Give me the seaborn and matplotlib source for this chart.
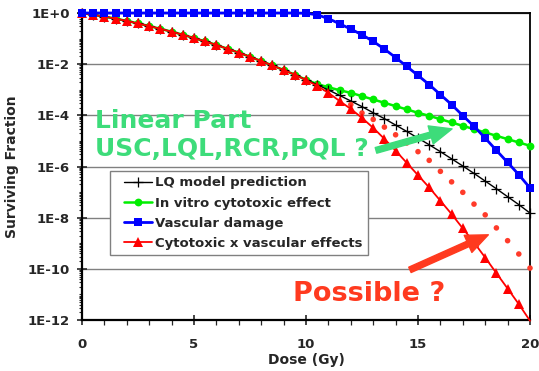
import numpy as np
import pandas as pd
import matplotlib
matplotlib.use("Agg")
import matplotlib.pyplot as plt
import seaborn as sns
from matplotlib.lines import Line2D
from matplotlib.legend_handler import HandlerLine2D
from matplotlib.ticker import FixedLocator, FuncFormatter, NullFormatter

# ---------------- data (log10 of surviving fraction) -------------
dose = [0.0, 0.5, 1.0, 1.5, 2.0, 2.5, 3.0, 3.5, 4.0, 4.5, 5.0, 5.5, 6.0, 6.5, 7.0, 7.5,
        8.0, 8.5, 9.0, 9.5, 10.0, 10.5, 11.0, 11.5, 12.0, 12.5, 13.0, 13.5, 14.0, 14.5,
        15.0, 15.5, 16.0, 16.5, 17.0, 17.5, 18.0, 18.5, 19.0, 19.5, 20.0]

lq_log = [0.00, -0.07, -0.14, -0.22, -0.31, -0.41, -0.51, -0.62, -0.73, -0.85,
          -0.98, -1.11, -1.25, -1.40, -1.55, -1.71, -1.88, -2.05, -2.23, -2.41,
          -2.61, -2.80, -3.01, -3.22, -3.44, -3.66, -3.90, -4.13, -4.38, -4.63,
          -4.89, -5.15, -5.42, -5.70, -5.98, -6.27, -6.57, -6.87, -7.18, -7.49, -7.82]

invitro_log = [0.00, -0.07, -0.14, -0.22, -0.31, -0.41, -0.51, -0.62, -0.73, -0.85,
               -0.98, -1.11, -1.25, -1.40, -1.55, -1.71, -1.88, -2.05, -2.23, -2.41,
               -2.61, -2.78, -2.90, -3.02, -3.12, -3.25, -3.38, -3.51, -3.64, -3.77,
               -3.90, -4.02, -4.15, -4.28, -4.41, -4.54, -4.67, -4.80, -4.93, -5.06, -5.19]

vascular_log = [0.00, 0.00, 0.00, 0.00, 0.00, 0.00, 0.00, 0.00, 0.00, 0.00,
                0.00, 0.00, 0.00, 0.00, 0.00, 0.00, 0.00, 0.00, 0.00, 0.00,
                -0.01, -0.07, -0.22, -0.42, -0.63, -0.85, -1.11, -1.41, -1.74, -2.09,
                -2.44, -2.80, -3.19, -3.58, -4.01, -4.43, -4.89, -5.37, -5.84, -6.32, -6.84]

combined_log = [0.00, -0.07, -0.14, -0.22, -0.31, -0.41, -0.51, -0.62, -0.73, -0.85,
                -0.98, -1.11, -1.25, -1.40, -1.55, -1.71, -1.88, -2.05, -2.23, -2.41,
                -2.62, -2.85, -3.12, -3.44, -3.75, -4.10, -4.49, -4.92, -5.38, -5.86,
                -6.34, -6.82, -7.34, -7.86, -8.42, -8.97, -9.56, -10.17, -10.77, -11.38, -12.03]

possible_dose = [12.0, 12.5, 13.0, 13.5, 14.0, 14.5, 15.0, 15.5, 16.0, 16.5,
                 17.0, 17.5, 18.0, 18.5, 19.0, 19.5, 20.0]
possible_log = [-3.58, -3.91, -4.16, -4.46, -4.76, -5.08, -5.42, -5.76, -6.19, -6.60,
                -7.01, -7.47, -7.89, -8.40, -8.90, -9.42, -9.97]

labels = ["LQ model prediction", "In vitro cytotoxic effect",
          "Vascular damage", "Cytotoxic x vascular effects"]
ytick_exps = [0, -2, -4, -6, -8, -10, -12]
xticks = [0, 5, 10, 15, 20]

# ---------------- style ----------------
sns.set_style("white")
plt.rcParams["font.family"] = ["DejaVu Sans"]
plt.rcParams["font.weight"] = "bold"
plt.rcParams["axes.labelweight"] = "bold"

GREEN_TXT = "#3ddc7a"
RED_TXT = "#ff3a1f"
C_LQ, C_GR, C_BL, C_RD = "black", "#00ee00", "#0000ff", "#ff0000"

fig = plt.figure(figsize=(5.39, 3.71), dpi=100)
ax = fig.add_axes([82 / 539, 51 / 371, 448 / 539, 307 / 371])

def frac(v):
    return 10.0 ** np.array(v)

df = pd.DataFrame({"dose": dose, "lq": frac(lq_log), "invitro": frac(invitro_log),
                   "vasc": frac(vascular_log), "comb": frac(combined_log)})
df_pos = pd.DataFrame({"dose": possible_dose, "S": frac(possible_log)})

sns.lineplot(data=df, x="dose", y="invitro", ax=ax, color=C_GR, lw=1.8,
             marker="o", markersize=5.6, markeredgewidth=0, markeredgecolor=C_GR,
             clip_on=False, zorder=3)
sns.lineplot(data=df, x="dose", y="lq", ax=ax, color=C_LQ, lw=1.0,
             marker="+", markersize=7.5, markeredgewidth=0.9, markeredgecolor=C_LQ,
             clip_on=False, zorder=4)
sns.scatterplot(data=df_pos, x="dose", y="S", ax=ax, color="#ff3b2a", s=16,
                edgecolor="none", zorder=4.5, clip_on=False)
sns.lineplot(data=df, x="dose", y="comb", ax=ax, color=C_RD, lw=1.3,
             marker="^", markersize=6.5, markeredgewidth=0, markeredgecolor=C_RD,
             clip_on=False, markevery=list(range(0, 40)), zorder=5)
sns.lineplot(data=df, x="dose", y="vasc", ax=ax, color=C_BL, lw=2.0,
             marker="s", markersize=6.0, markeredgewidth=0, markeredgecolor=C_BL,
             clip_on=False, zorder=6)

ax.set_yscale("log")
ax.set_xlim(0, 20)
ax.set_ylim(1e-12, 1)

ax.yaxis.set_major_locator(FixedLocator([10.0 ** e for e in ytick_exps]))
ax.yaxis.set_major_formatter(FuncFormatter(lambda v, p: "1E%+d" % int(round(np.log10(v)))))
minor = [k * 10.0 ** n for n in range(-12, 0) for k in range(1, 10)
         if not (k == 1 and n % 2 == 0)]
ax.yaxis.set_minor_locator(FixedLocator(minor))
ax.yaxis.set_minor_formatter(NullFormatter())
ax.xaxis.set_major_locator(FixedLocator(xticks))
ax.xaxis.set_minor_locator(FixedLocator([d for d in range(0, 21) if d % 5 != 0]))

ax.tick_params(axis="y", which="major", direction="inout", length=6.5, width=1.2,
               labelsize=9.5, pad=5.5, left=True)
ax.tick_params(axis="y", which="minor", direction="out", length=2.5, width=0.8, left=True)
ax.tick_params(axis="x", which="major", direction="inout", length=7.5, width=1.2,
               labelsize=9.5, pad=9, bottom=True)
ax.tick_params(axis="x", which="minor", direction="out", length=3.5, width=0.9, bottom=True)

ax.yaxis.grid(True, which="major", color="#808080", lw=1.0)
ax.xaxis.grid(False)
ax.set_axisbelow(True)
for side in ["left", "bottom"]:
    ax.spines[side].set_color("black")
    ax.spines[side].set_linewidth(1.6)
for side in ["top", "right"]:
    ax.spines[side].set_color("black")
    ax.spines[side].set_linewidth(1.3)

ax.set_xlabel("Dose (Gy)", fontsize=10, fontweight="bold")
ax.set_ylabel("Surviving Fraction", fontsize=10, fontweight="bold")
ax.xaxis.set_label_coords(0.501, -0.108)
ax.yaxis.set_label_coords(-0.14, 0.5)

# legend
handles = [
    Line2D([], [], color=C_LQ, lw=1.0, marker="+", markersize=7.5, markeredgewidth=0.9),
    Line2D([], [], color=C_GR, lw=1.8, marker="o", markersize=5.6, markeredgewidth=0),
    Line2D([], [], color=C_BL, lw=2.0, marker="s", markersize=6.0, markeredgewidth=0),
    Line2D([], [], color=C_RD, lw=1.3, marker="^", markersize=6.5, markeredgewidth=0),
]
leg = ax.legend(handles, labels, loc="upper left", bbox_to_anchor=(0.0625, 0.4853),
                borderaxespad=0, fontsize=9.5, frameon=True, fancybox=False,
                edgecolor="#808080", framealpha=1, borderpad=0.4, labelspacing=0.55,
                handlelength=2.78, handletextpad=0.25,
                handler_map={Line2D: HandlerLine2D(xpad=0.66)})
leg.get_frame().set_linewidth(1.0)
leg.set_zorder(7)
for t in leg.get_texts():
    t.set_fontweight("bold")

# annotations
ax.text(0.58, 10 ** -4.48, "Linear Part", color=GREEN_TXT, fontsize=18,
        fontweight="bold", va="baseline", ha="left", zorder=8)
ax.text(0.58, 10 ** -5.58, "USC,LQL,RCR,PQL ?", color=GREEN_TXT, fontsize=18,
        fontweight="bold", va="baseline", ha="left", zorder=8)
ax.text(9.4, 10 ** -11.27, "Possible ?", color=RED_TXT, fontsize=19.5,
        fontweight="bold", va="baseline", ha="left", zorder=8)

ax.annotate("", xy=(16.52, 10 ** -4.53), xytext=(13.125, 10 ** -5.37),
            arrowprops=dict(arrowstyle="simple,head_length=1.6,head_width=1.35,tail_width=0.42",
                            color=GREEN_TXT, mutation_scale=10, shrinkA=0, shrinkB=0),
            zorder=9)
ax.annotate("", xy=(18.14, 10 ** -8.67), xytext=(14.64, 10 ** -10.04),
            arrowprops=dict(arrowstyle="simple,head_length=1.6,head_width=1.35,tail_width=0.42",
                            color=RED_TXT, mutation_scale=10, shrinkA=0, shrinkB=0),
            zorder=9)

fig.savefig("out.png", dpi=100)
